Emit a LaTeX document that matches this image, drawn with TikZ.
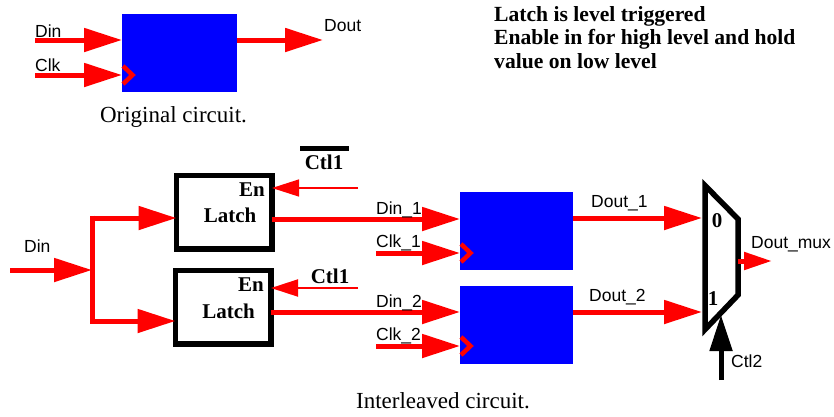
\documentclass[tikz,border=0pt]{standalone}
\usepackage{fontspec}
\setmainfont{Liberation Serif}
\newfontfamily\lsans{Liberation Sans}
\usetikzlibrary{arrows.meta}
\definecolor{sigred}{RGB}{255,0,0}
\definecolor{ffblue}{RGB}{0,0,255}
\tikzset{
  ffbox/.style={fill=ffblue,draw=none,inner sep=0pt,outer sep=0pt,anchor=north west,minimum width=115pt,minimum height=78pt},
  latchbox/.style={draw=black,line width=5.5pt,fill=white,inner sep=0pt,outer sep=0pt,anchor=north west,minimum width=95.5pt,minimum height=73.5pt},
  sig/.style={draw=sigred,line width=5pt,-{Triangle[length=38pt,width=23pt,fill=sigred]}},
  sigsmall/.style={draw=sigred,line width=5pt,-{Triangle[length=28pt,width=17pt,fill=sigred]}},
  bus/.style={draw=sigred,line width=5pt},
  thinsig/.style={draw=sigred,-{Triangle[length=27pt,width=17pt,fill=sigred]}},
  chev/.style={draw=sigred,line width=4.5pt,line cap=butt,miter limit=10},
  sanslabel/.style={font=\lsans\fontsize{17.5}{20}\selectfont,inner sep=0pt,anchor=west},
  boldlabel/.style={font=\bfseries\fontsize{21}{24}\selectfont,inner sep=0pt},
  caption/.style={font=\fontsize{23}{26}\selectfont,inner sep=0pt},
  muxline/.style={draw=black,line width=5.5pt,miter limit=10,line join=miter},
}
\begin{document}
\begin{tikzpicture}[x=1pt,y=-1pt]
\useasboundingbox (0,0) rectangle (834,416);
% original circuit
\node[ffbox] (orig) at (122,14) {};
\coordinate (din0) at (35,40);
\coordinate (clk0) at (35,75);
\coordinate (dout0) at (323,40);
\draw[sig] (din0) -- (din0 -| orig.west);
\draw[sig] (clk0) -- (clk0 -| orig.west);
\draw[sig] (dout0 -| orig.east) -- (dout0);
\draw[chev] (123,66) -- (132.5,75) -- (123,84);
\node[sanslabel] (ldin0) at (35,31) {Din};
\node[sanslabel] (lclk0) at (35,65) {Clk};
\node[sanslabel] (ldout0) at (324,26) {Dout};
\node[caption] (capo) at (173.5,117) {Original circuit.};
% note
\node[font=\bfseries\fontsize{21.6}{23.5}\selectfont,align=left,inner sep=0pt,anchor=north west] (note) at (494,6) {Latch is level triggered\\Enable in for high level and hold\\value on low level};
% latches
\node[latchbox] (l1) at (176.5,175.5) {};
\node[latchbox] (l2) at (175.5,270.5) {};
\node[boldlabel] (en1) at (252,190) {En};
\node[boldlabel] (la1) at (230,215) {Latch};
\node[boldlabel] (en2) at (251,285) {En};
\node[boldlabel] (la2) at (228.5,311) {Latch};
% input tree
\coordinate (din) at (10,270);
\coordinate (split) at (92,270);
\coordinate (bt) at (92,218);
\coordinate (bb) at (92,321);
\draw[sig] (din) -- (split);
\draw[bus] (92,215.5) -- (92,323.5);
\draw[sig] (bt) -- (bt -| l1.west);
\draw[sig] (bb) -- (bb -| l2.west);
\node[sanslabel] (ldin) at (24,246) {Din};
% enable inputs
\coordinate (e1) at (358,188);
\coordinate (e2) at (358,288);
\draw[thinsig,line width=1.3pt] (e1) -- (e1 -| l1.east);
\draw[thinsig,line width=2pt] (e2) -- (e2 -| l2.east);
\node[boldlabel] (c1) at (324,162.5) {Ctl1};
\draw[black,line width=5pt] (300,148.5) -- (349,148.5);
\node[boldlabel] (c2) at (330,276) {Ctl1};
% flip flops
\node[ffbox,minimum width=113pt] (f1) at (460,192) {};
\node[ffbox,minimum width=113pt] (f2) at (460,286) {};
\coordinate (d1) at (272,219);
\coordinate (d2) at (271,312);
\coordinate (k1) at (376,253);
\coordinate (k2) at (376,346);
\draw[sig] (d1) -- (d1 -| f1.west);
\draw[sig] (k1) -- (k1 -| f1.west);
\draw[sig] (d2) -- (d2 -| f2.west);
\draw[sig] (k2) -- (k2 -| f2.west);
\draw[chev] (461,244) -- (470.5,253) -- (461,262);
\draw[chev] (461,337) -- (470.5,346) -- (461,355);
\node[sanslabel] (ld1) at (376,210) {Din\_1};
\node[sanslabel] (lk1) at (376,243) {Clk\_1};
\node[sanslabel] (ld2) at (376,303) {Din\_2};
\node[sanslabel] (lk2) at (376,336) {Clk\_2};
% mux
\coordinate (m1) at (705,185.5);
\coordinate (m2) at (738,219);
\coordinate (m3) at (738,295);
\coordinate (m4) at (705,329.5);
\draw[muxline] (m1) -- (m2) -- (m3) -- (m4) -- cycle;
\coordinate (m0in) at (702,218);
\coordinate (m1in) at (702,312);
\coordinate (mout) at (772,261);
\coordinate (msel) at (721,380);
\draw[sig] (m0in -| f1.east) -- (m0in);
\draw[sig] (m1in -| f2.east) -- (m1in);
\draw[sigsmall] (mout -| m2) -- (mout);
\draw[black,line width=5pt,-{Triangle[length=36pt,width=22pt,fill=black]}] (msel) -- (721,315);
\node[boldlabel] (z) at (717,221) {0};
\node[boldlabel] (o) at (713,299) {1};
\node[sanslabel] (lo1) at (591,203) {Dout\_1};
\node[sanslabel] (lo2) at (589,297) {Dout\_2};
\node[sanslabel] (lmx) at (751,244) {Dout\_mux};
\node[sanslabel] (lsel) at (731,361) {Ctl2};
\node[caption] (capi) at (443,401) {Interleaved circuit.};
\end{tikzpicture}
\end{document}
